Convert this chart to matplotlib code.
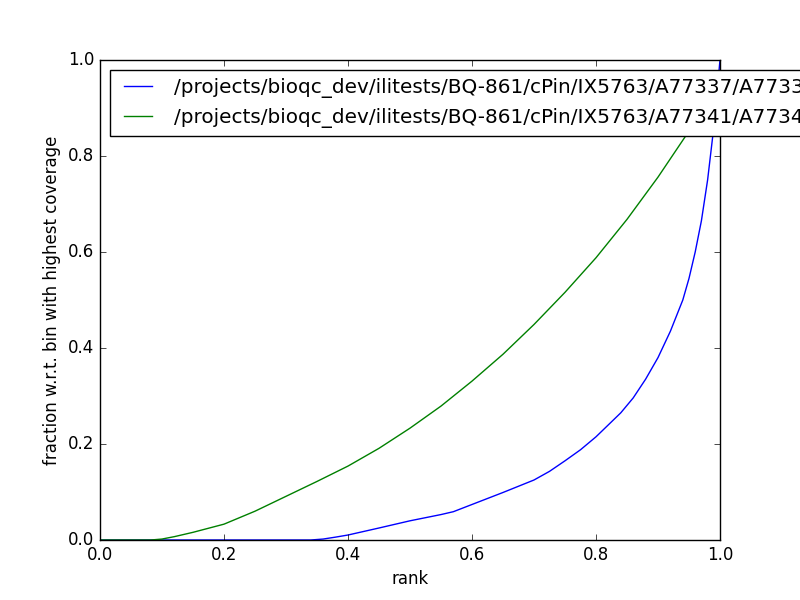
import numpy as np
import matplotlib
matplotlib.use("Agg")
import matplotlib.pyplot as plt

# values
labels = ["/projects/bioqc_dev/ilitests/BQ-861/cPin/IX5763/A77337/A77337.bam",
          "/projects/bioqc_dev/ilitests/BQ-861/cPin/IX5763/A77341/A77341.bam"]

rank_blue = [0.0, 0.2, 0.34, 0.36, 0.38, 0.4, 0.45, 0.5, 0.55, 0.57, 0.6, 0.65, 0.7,
             0.725, 0.75, 0.775, 0.8, 0.82, 0.84, 0.86, 0.88, 0.9, 0.92, 0.94, 0.95,
             0.96, 0.97, 0.98, 0.99, 1.0]
frac_blue = [0.0, 0.0, 0.0, 0.002, 0.006, 0.0104, 0.025, 0.04, 0.053, 0.059, 0.074, 0.099, 0.125,
             0.143, 0.165, 0.188, 0.215, 0.24, 0.265, 0.296, 0.335, 0.38, 0.435, 0.5, 0.545,
             0.6, 0.665, 0.75, 0.86, 1.0]

rank_green = [0.0, 0.082, 0.1, 0.12, 0.15, 0.2, 0.25, 0.3, 0.35, 0.4, 0.45, 0.5, 0.55,
              0.6, 0.65, 0.7, 0.75, 0.8, 0.85, 0.9, 0.95, 1.0]
frac_green = [0.0, 0.0, 0.002, 0.007, 0.016, 0.033, 0.06, 0.091, 0.122, 0.154, 0.191, 0.233, 0.279,
              0.331, 0.387, 0.449, 0.516, 0.588, 0.668, 0.756, 0.852, 0.96]

plt.style.use("classic")
fig = plt.figure(figsize=(8, 6), dpi=100)
ax = fig.add_subplot(111)

ax.plot(rank_blue, frac_blue, color="b", lw=1, label=labels[0])
ax.plot(rank_green, frac_green, color="g", lw=1, label=labels[1])

ax.set_xlim(0, 1)
ax.set_ylim(0, 1)
ax.set_xlabel("rank")
ax.set_ylabel("fraction w.r.t. bin with highest coverage")
ax.legend(loc="upper left")

fig.savefig("out.png", dpi=100)
